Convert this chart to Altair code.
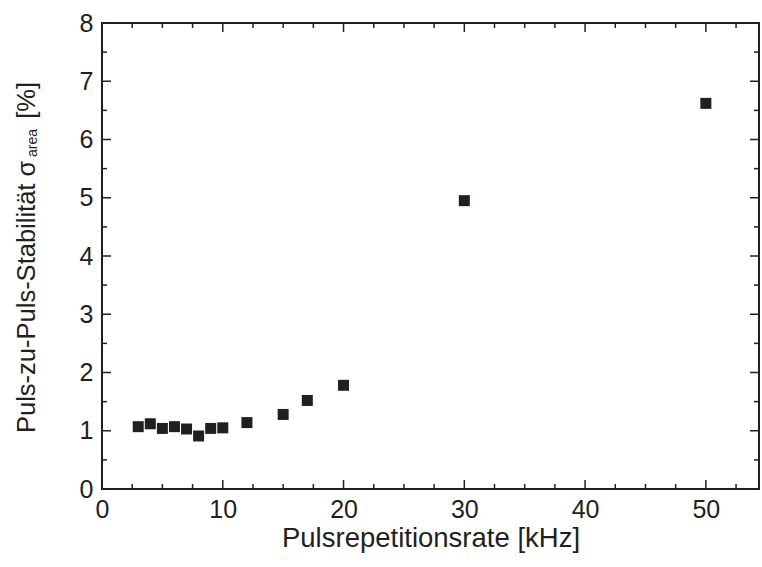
import altair as alt
import pandas as pd

# ---- data ----
freq_khz = [3, 4, 5, 6, 7, 8, 9, 10, 12, 15, 17, 20, 30, 50]
stability = [1.07, 1.12, 1.04, 1.07, 1.03, 0.91, 1.04, 1.05, 1.14, 1.28, 1.52, 1.78, 4.95, 6.62]

x_major_ticks = [0, 10, 20, 30, 40, 50]
x_minor_ticks = [2.5, 5, 7.5, 12.5, 15, 17.5, 22.5, 25, 27.5, 32.5, 35, 37.5,
                 42.5, 45, 47.5, 52.5]
y_major_ticks = [0, 1, 2, 3, 4, 5, 6, 7, 8]
y_minor_ticks = [0.5, 1.5, 2.5, 3.5, 4.5, 5.5, 6.5, 7.5]

x_title = "Pulsrepetitionsrate [kHz]"
y_title_main = "Puls-zu-Puls-Stabilität σ"
y_title_sub = "area"
y_title_end = "[%]"

W, H = 657, 466
INK = "#231f20"
FONT = "Liberation Sans"

df = pd.DataFrame({"f": freq_khz, "s": stability})
xs = alt.Scale(domain=[0, 54.4], nice=False, zero=False)
ys = alt.Scale(domain=[0, 8], nice=False, zero=False)

x_axis = alt.Axis(values=x_major_ticks, format="d", ticks=False, tickSize=0, domain=False,
                  grid=False, labelFontSize=25, labelPadding=8, labelFont=FONT,
                  labelColor=INK, labelFlush=False, labelOverlap=False,
                  titleFont=FONT, titleFontSize=27.5,
                  titleFontWeight="normal", titleColor=INK, titlePadding=2)
y_axis = alt.Axis(values=y_major_ticks, format="d", ticks=False, tickSize=0, domain=False,
                  grid=False, labelFontSize=25, labelPadding=9, labelFont=FONT,
                  labelColor=INK, labelFlush=False, labelOverlap=False)

points = alt.Chart(df).mark_point(shape="square", filled=True, size=121, color=INK, opacity=1).encode(
    x=alt.X("f:Q", scale=xs, title=x_title, axis=x_axis),
    y=alt.Y("s:Q", scale=ys, title=None, axis=y_axis),
)


def xticks(vals, length, top):
    d = pd.DataFrame({"v": vals})
    if top:
        yy, yy2 = alt.value(0), alt.value(length)
    else:
        yy, yy2 = alt.value(H), alt.value(H - length)
    return alt.Chart(d).mark_rule(color=INK, strokeWidth=1.5).encode(
        x=alt.X("v:Q", scale=xs, title=x_title, axis=x_axis), y=yy, y2=yy2)


def yticks(vals, length, right):
    d = pd.DataFrame({"v": vals})
    if right:
        xx, xx2 = alt.value(W), alt.value(W - length)
    else:
        xx, xx2 = alt.value(0), alt.value(length)
    return alt.Chart(d).mark_rule(color=INK, strokeWidth=1.5).encode(
        y=alt.Y("v:Q", scale=ys, title=None, axis=y_axis), x=xx, x2=xx2)


tick_layers = [
    xticks(x_major_ticks, 9, False), xticks(x_minor_ticks, 5, False),
    xticks(x_major_ticks, 9, True), xticks(x_minor_ticks, 5, True),
    yticks(y_major_ticks, 9, False), yticks(y_minor_ticks, 5, False),
    yticks(y_major_ticks, 9, True), yticks(y_minor_ticks, 5, True),
]


def ytext(txt, size, xpos, ypos, align):
    d = pd.DataFrame({"t": [txt]})
    return alt.Chart(d).mark_text(angle=270, align=align, baseline="alphabetic",
                                  fontSize=size, font=FONT, color=INK).encode(
        text="t:N", x=alt.value(xpos), y=alt.value(ypos))


title_layers = [
    ytext(y_title_main, 25.5, -67, 410, "left"),
    ytext(y_title_sub, 14, -65, 134, "left"),
    ytext(y_title_end, 25.5, -67, 59, "right"),
]

chart = alt.layer(points, *tick_layers, *title_layers).properties(
    width=W, height=H,
    autosize=alt.AutoSizeParams(type="none"),
    padding={"left": 102, "top": 23, "right": 3, "bottom": 78},
    background="white",
).configure_view(stroke=INK, strokeWidth=2)

chart.save("out.html", embed_options={"renderer": "svg", "actions": False})
